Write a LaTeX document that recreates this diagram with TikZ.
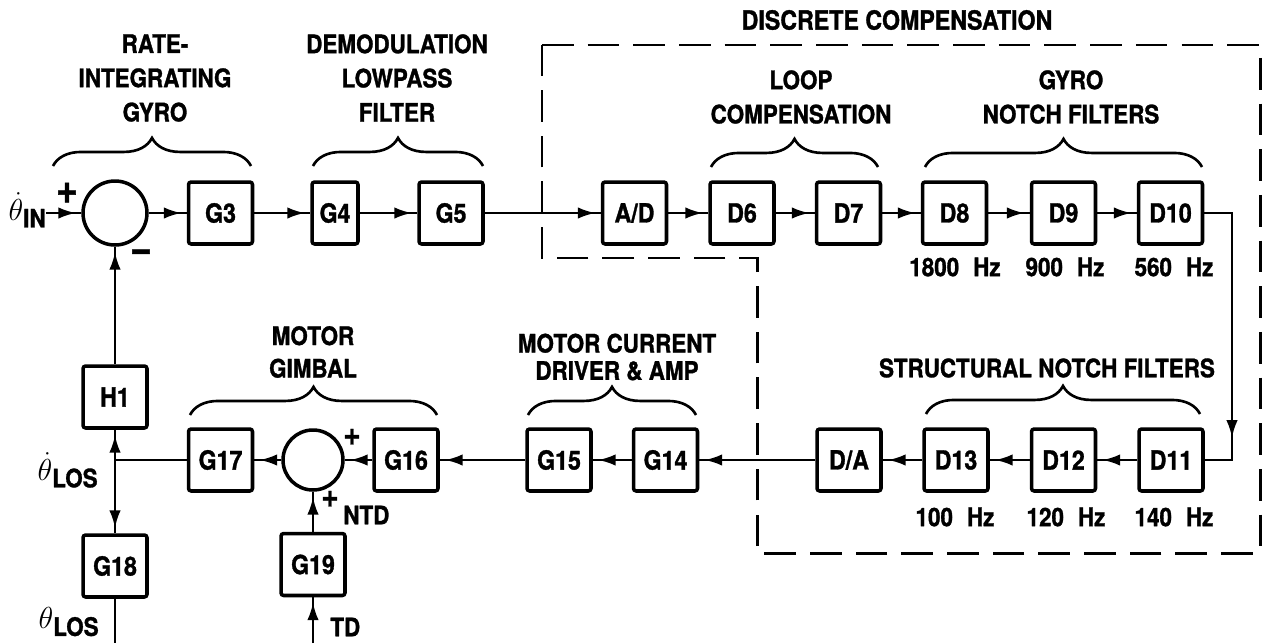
\documentclass[tikz,border=0pt]{standalone}
\usepackage{fontspec}
\setmainfont{TeX Gyre Heros}[FakeStretch=0.88, BoldFeatures={FakeBold=1.2}]
\usepackage{amsmath}
\usetikzlibrary{arrows.meta, calc, decorations.markings, decorations.pathreplacing}
\tikzset{
  blk/.style={
    rectangle, rounded corners=1.5pt,
    draw=black, line width=2pt,
    font=\fontsize{15}{18}\selectfont\bfseries,
    minimum width=1.28cm, minimum height=1.24cm,
    inner sep=0pt,
  },
  sumj/.style={
    circle, draw=black, line width=2pt,
    minimum size=#1, inner sep=0pt,
  },
  wire/.style={line width=1.4pt},
  flow/.style={
    wire, postaction={decorate},
    decoration={markings,
      mark=at position -3pt with {\arrow{Latex[length=10pt,width=6.5pt]}}},
  },
  grp/.style={
    line width=1.5pt, decorate,
    decoration={brace, amplitude=16pt},
  },
  hdr/.style={
    font=\fontsize{14.5}{19.5}\selectfont\bfseries,
    align=center, inner sep=0pt,
  },
  hz/.style={font=\fontsize{14.5}{17}\selectfont\bfseries, inner sep=0pt},
  sgn/.style={font=\fontsize{24}{24}\selectfont\bfseries, inner sep=0pt},
  sig/.style={font=\fontsize{14.5}{17}\selectfont\bfseries, inner sep=0pt},
  region/.style={line width=1.7pt, dash pattern=on 18pt off 8pt},
}
\begin{document}
\begin{tikzpicture}[x=0.02cm, y=-0.02cm]
  \useasboundingbox (0,0) rectangle (1265,643);

  % discrete compensation region
  \draw[region] (542,45) -- (1260,45) -- (1260,553) -- (757,553)
    -- (757,258) -- (542,258) -- cycle;

  % forward path
  \node[sumj=1.28cm] (s1) at (115,213) {};
  \node[blk] (g3) at (220.5,213) {G3};
  \node[blk, minimum width=0.92cm] (g4) at (335,213) {G4};
  \node[blk] (g5) at (451,213) {G5};
  \foreach \nm/\txt/\xx in {ad/{A/D}/634.5, d6/D6/742, d7/D7/848.5,
      d8/D8/954.5, d9/D9/1063.5, d10/D10/1170.5}
    \node[blk] (\nm) at (\xx,213) {\txt};

  % return path
  \foreach \nm/\txt/\xx in {d11/D11/1171, d12/D12/1063.5, d13/D13/956,
      da/{D/A}/849, g14/G14/665.5, g15/G15/559, g16/G16/406, g17/G17/220.5}
    \node[blk] (\nm) at (\xx,460) {\txt};
  \node[sumj=1.2cm] (s2) at (313,460) {};
  \node[blk] (h1) at (115,397) {H1};
  \node[blk] (g18) at (115,566) {G18};
  \node[blk] (g19) at (313,564.5) {G19};

  % notch frequencies
  \foreach \txt/\xx in {1800/955, 900/1065, 560/1174}
    \node[hz] (hz\txt) at (\xx,267) {\txt\hspace{8pt}Hz};
  \foreach \txt/\xx in {100/955, 120/1066, 140/1174}
    \node[hz] (hz\txt) at (\xx,517) {\txt\hspace{8pt}Hz};

  % group labels
  \node[hdr] (lblgyro) at (155,78) {RATE-\\INTEGRATING\\GYRO};
  \node[hdr] (lbldemod) at (397,78) {DEMODULATION\\LOWPASS\\FILTER};
  \node[hdr] (lblloop) at (801,97) {LOOP\\COMPENSATION};
  \node[hdr] (lblgnotch) at (1071,97) {GYRO\\NOTCH FILTERS};
  \node[hdr, font=\fontsize{15}{18}\selectfont\bfseries]
    (lbldisc) at (897,20) {DISCRETE COMPENSATION};
  \node[hdr] (lblstruct) at (1047,368) {STRUCTURAL NOTCH FILTERS};
  \node[hdr, font=\fontsize{14.5}{15.5}\selectfont\bfseries]
    (lbldrv) at (617,357) {MOTOR CURRENT\\DRIVER \& AMP};
  \node[hdr, font=\fontsize{14.5}{18.5}\selectfont\bfseries]
    (lblmotor) at (313,352) {MOTOR\\GIMBAL};

  \draw[grp] (53,166) -- (251,166);
  \draw[grp] (313,166) -- (483,166);
  \draw[grp] (711,167) -- (878,167);
  \draw[grp] (925,167) -- (1202,167);
  \draw[grp] (190,415) -- (437,415);
  \draw[grp] (528,415) -- (696,415);
  \draw[grp] (926,414) -- (1200,414);

  % signs and signals
  \node[sgn] (pin) at (67,193) {+};
  \node[sgn] (mfb) at (141,256) {−};
  \node[sgn, font=\fontsize{19}{19}\selectfont\bfseries] (pg16) at (352,437) {+};
  \node[sgn, font=\fontsize{19}{19}\selectfont\bfseries] (pg19) at (330,499) {+};
  \node[sig, anchor=east] (thin) at (46,210)
    {\fontsize{17}{17}\selectfont$\dot{\theta}$\raisebox{-4pt}{\fontsize{14.5}{17}\selectfont IN}};
  \node[sig, anchor=east] (thlos) at (98,470)
    {\fontsize{17}{17}\selectfont$\dot{\theta}$\raisebox{-4pt}{\fontsize{14.5}{17}\selectfont LOS}};
  \node[sig, anchor=east] (thout) at (99,622)
    {\fontsize{17}{17}\selectfont$\theta$\raisebox{-4pt}{\fontsize{14.5}{17}\selectfont LOS}};
  \node[sig, anchor=west] (ntd) at (343,515) {NTD};
  \node[sig, anchor=west] (td) at (330,627) {TD};

  % connectors
  \draw[flow] (thin.east |- s1) -- (s1.west);
  \draw[flow] (s1) -- (g3);
  \foreach \a/\b in {g3/g4, g4/g5, g5/ad, ad/d6, d6/d7, d7/d8, d8/d9, d9/d10}
    \draw[flow] (\a) -- (\b);
  \coordinate (turn) at (1232,443);
  \draw[flow] (d10.east) -| (turn);
  \draw[wire] (turn) |- (d11.east);
  \foreach \a/\b in {d11/d12, d12/d13, d13/da, da/g14, g14/g15, g15/g16, g16/s2, s2/g17}
    \draw[flow] (\a) -- (\b);
  \coordinate (jn) at (115,460);
  \draw[wire] (g17.west) -- (jn);
  \draw[flow] (jn) -- (h1.south);
  \draw[flow] (jn) -- (g18.north);
  \draw[flow] (h1.north) -- (s1.south);
  \coordinate (losout) at (115,643);
  \draw[wire] (g18.south) -- (losout);
  \coordinate (tdin) at (313,643);
  \draw[flow] (tdin) -- (g19.south);
  \draw[flow] (g19.north) -- (s2.south);
\end{tikzpicture}
\end{document}
